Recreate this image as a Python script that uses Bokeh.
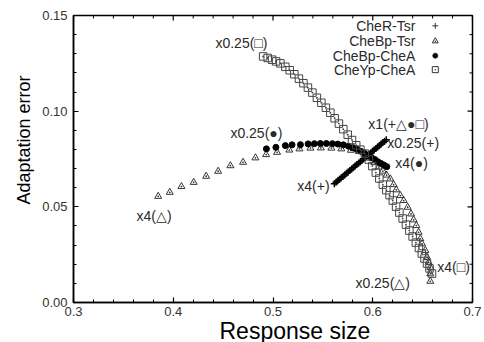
from bokeh.plotting import figure
from bokeh.models import (Range1d, FixedTicker, Label, LabelSet, Title,
                          NumeralTickFormatter, ColumnDataSource)
from bokeh.core.properties import value
from bokeh.embed import file_html
from bokeh.resources import INLINE
import math

# ---------------- data ----------------
# CheR-Tsr (+), from x4 to x0.25
cher_x = [0.5615, 0.5632, 0.5650, 0.5667, 0.5684, 0.5702, 0.5719, 0.5737, 0.5754, 0.5771,
          0.5789, 0.5806, 0.5823, 0.5841, 0.5858, 0.5876, 0.5893, 0.5910, 0.5928, 0.5945,
          0.5962, 0.5980, 0.5997, 0.6014, 0.6032, 0.6049, 0.6067, 0.6084, 0.6101, 0.6119, 0.6136]
cher_y = [0.0621, 0.0629, 0.0636, 0.0644, 0.0652, 0.0659, 0.0667, 0.0675, 0.0682, 0.0690,
          0.0698, 0.0705, 0.0713, 0.0721, 0.0728, 0.0736, 0.0744, 0.0751, 0.0759, 0.0767,
          0.0774, 0.0782, 0.0790, 0.0797, 0.0805, 0.0813, 0.0820, 0.0828, 0.0836, 0.0843, 0.0851]

# CheBp-Tsr (triangles), from x4 to x0.25
chebt_x = [0.3849, 0.3965, 0.4082, 0.4205, 0.4330, 0.4450, 0.4573, 0.4700, 0.4824, 0.4931,
           0.5041, 0.5164, 0.5265, 0.5375, 0.5480, 0.5585, 0.5685, 0.5781, 0.5861, 0.5926,
           0.5971, 0.6016, 0.6061, 0.6101, 0.6139, 0.6176, 0.6209, 0.6236, 0.6277, 0.6310,
           0.6350, 0.6384, 0.6410, 0.6437, 0.6460, 0.6477, 0.6494, 0.6527, 0.6544, 0.6560,
           0.6577, 0.6577, 0.6577]
chebt_y = [0.0555, 0.0576, 0.0606, 0.0628, 0.0660, 0.0686, 0.0715, 0.0733, 0.0756, 0.0773,
           0.0785, 0.0797, 0.0803, 0.0807, 0.0808, 0.0807, 0.0803, 0.0796, 0.0789, 0.0778,
           0.0755, 0.0731, 0.0708, 0.0687, 0.0666, 0.0646, 0.0616, 0.0589, 0.0559, 0.0533,
           0.0498, 0.0463, 0.0432, 0.0402, 0.0367, 0.0333, 0.0307, 0.0272, 0.0237, 0.0210,
           0.0184, 0.0150, 0.0111]

# CheBp-CheA (dots), from x0.25 to x4
cheba_x = [0.4934, 0.5029, 0.5124, 0.5191, 0.5275, 0.5352, 0.5415, 0.5475, 0.5535, 0.5595,
           0.5650, 0.5705, 0.5756, 0.5801, 0.5841, 0.5881, 0.5921, 0.5956, 0.5989, 0.6021,
           0.6051, 0.6081, 0.6111, 0.6141]
cheba_y = [0.0803, 0.0811, 0.0820, 0.0824, 0.0825, 0.0829, 0.0830, 0.0831, 0.0831, 0.0830,
           0.0828, 0.0824, 0.0817, 0.0809, 0.0801, 0.0790, 0.0778, 0.0768, 0.0757, 0.0747,
           0.0736, 0.0727, 0.0719, 0.0710]

# CheYp-CheA (squares), from x0.25 to x4
cheya_x = [0.4901, 0.4947, 0.4991, 0.5031, 0.5074, 0.5124, 0.5167, 0.5214, 0.5260, 0.5305,
           0.5350, 0.5395, 0.5440, 0.5485, 0.5530, 0.5575, 0.5618, 0.5661, 0.5705, 0.5749,
           0.5792, 0.5834, 0.5876, 0.5921, 0.5961, 0.5996, 0.6031, 0.6066, 0.6101, 0.6136,
           0.6169, 0.6201, 0.6234, 0.6267, 0.6300, 0.6333, 0.6367, 0.6400, 0.6432, 0.6463,
           0.6492, 0.6519, 0.6544, 0.6569, 0.6594]
cheya_y = [0.1286, 0.1278, 0.1269, 0.1260, 0.1250, 0.1232, 0.1214, 0.1193, 0.1170, 0.1146,
           0.1123, 0.1097, 0.1070, 0.1044, 0.1018, 0.0992, 0.0963, 0.0935, 0.0906, 0.0877,
           0.0849, 0.0822, 0.0799, 0.0778, 0.0747, 0.0713, 0.0679, 0.0648, 0.0616, 0.0587,
           0.0561, 0.0533, 0.0501, 0.0470, 0.0439, 0.0407, 0.0376, 0.0345, 0.0313, 0.0285,
           0.0256, 0.0230, 0.0204, 0.0178, 0.0151]

series_names = ["CheR-Tsr", "CheBp-Tsr", "CheBp-CheA", "CheYp-CheA"]

x_ticks = [0.3, 0.4, 0.5, 0.6, 0.7]
y_ticks = [0.00, 0.05, 0.10, 0.15]

note_texts = ["x0.25(\u25a1)", "x0.25(\u25cf)", "x1(+\u25b3\u25cf\u25a1)", "x0.25(+)",
              "x4(\u25cf)", "x4(+)", "x4(\u25b3)", "x0.25(\u25b3)", "x4(\u25a1)"]

x_title = "Response size"
y_title = "Adaptation error"

# ---------------- layout / style ----------------
note_x = [0.4423, 0.4573, 0.5956, 0.6146, 0.6226, 0.5244, 0.3631, 0.5826, 0.6647]
note_y = [0.1358, 0.0888, 0.0935, 0.0836, 0.0731, 0.0611, 0.0454, 0.0104, 0.0183]

FONT = "Liberation Sans"
TXT = "#2a2a2a"

x_lo, x_hi = x_ticks[0], x_ticks[-1]
y_lo, y_hi = y_ticks[0], y_ticks[-1]

p = figure(width=484, height=342,
           x_range=Range1d(x_lo, x_hi), y_range=Range1d(y_lo, y_hi),
           output_backend="svg", toolbar_location=None,
           min_border_left=73, min_border_right=12, min_border_top=15, min_border_bottom=40)
p.xgrid.visible = False
p.ygrid.visible = False
p.outline_line_color = "black"
p.outline_line_width = 1.5
p.background_fill_color = "white"
p.border_fill_color = "white"

x_minor = [round(x_lo + 0.02 * i, 2) for i in range(21) if i % 5 != 0]
y_minor = [round(y_lo + 0.01 * i, 2) for i in range(16) if i % 5 != 0]

xb = p.xaxis[0]
yl = p.yaxis[0]
for ax, ticks, minor in [(xb, x_ticks, x_minor), (yl, y_ticks, y_minor)]:
    ax.ticker = FixedTicker(ticks=ticks, minor_ticks=minor)
    ax.major_tick_in = 5
    ax.major_tick_out = 0
    ax.minor_tick_in = 3
    ax.minor_tick_out = 0
    ax.axis_line_width = 1.5
    ax.major_tick_line_width = 1.2
    ax.minor_tick_line_width = 1.0
    ax.major_label_text_font = FONT
    ax.major_label_text_font_size = "13px"
    ax.major_label_text_color = "#333333"
xb.formatter = NumeralTickFormatter(format="0.0")
yl.formatter = NumeralTickFormatter(format="0.00")
xb.major_label_standoff = 4
yl.major_label_standoff = 6

# axis titles
p.add_layout(Title(text=x_title, align="left", offset=146, standoff=-6,
                   text_font=FONT, text_font_size="23px", text_font_style="normal",
                   text_color="black"), "below")
p.add_layout(Title(text=y_title, align="left", offset=98, standoff=12,
                   text_font=FONT, text_font_size="18px", text_font_style="normal",
                   text_color="black"), "left")

# mirrored inward ticks on top and right edges (half of each dash is clipped by the frame)
p.scatter(x_ticks, [y_hi] * len(x_ticks), marker="dash", angle=math.pi / 2, size=10,
          line_color="black", line_width=1.2)
p.scatter(x_minor, [y_hi] * len(x_minor), marker="dash", angle=math.pi / 2, size=6,
          line_color="black", line_width=1.0)
p.scatter([x_hi] * len(y_ticks), y_ticks, marker="dash", size=10,
          line_color="black", line_width=1.2)
p.scatter([x_hi] * len(y_minor), y_minor, marker="dash", size=6,
          line_color="black", line_width=1.0)

# series (gnuplot order)
p.scatter(cher_x, cher_y, marker="cross", size=7, line_color="black", line_width=1.5)
p.scatter(chebt_x, chebt_y, marker="triangle_dot", size=7, line_color="#333333",
          fill_alpha=0, line_width=1)
p.scatter(cheba_x, cheba_y, marker="circle", size=6, fill_color="black", line_color="black")
p.scatter(cheya_x, cheya_y, marker="square_dot", size=7.5, line_color="#444444",
          fill_alpha=0, line_width=1)

# key (text at left, symbol at right)
key_text_x = 0.6427
key_sym_x = 0.6627
key_y = [0.1446, 0.1366, 0.1290, 0.1217]
key_markers = ["cross", "triangle_dot", "circle", "square_dot"]
key_sizes = [6, 6, 5, 6]
for name, yy, mk, sz in zip(series_names, key_y, key_markers, key_sizes):
    p.add_layout(Label(x=key_text_x, y=yy, text=name, text_align="right",
                       text_baseline="middle", text_font=FONT, text_font_size="14px",
                       text_color=TXT))
    p.scatter([key_sym_x], [yy], marker=mk, size=sz, line_color="#333333",
              fill_color="black" if mk == "circle" else None, line_width=1)

notes = ColumnDataSource(dict(x=note_x, y=note_y, text=note_texts))
p.add_layout(LabelSet(x="x", y="y", text="text", source=notes, text_align="left",
                      text_baseline="middle", text_font=value(FONT),
                      text_font_size="14px", text_color=TXT))

open("out.html", "w").write(file_html(p, INLINE))
